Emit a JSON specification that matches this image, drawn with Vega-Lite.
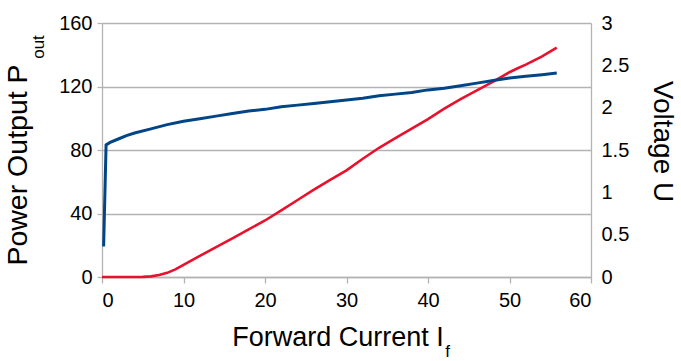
{
  "$schema": "https://vega.github.io/schema/vega-lite/v6.json",
  "width": 489,
  "height": 254,
  "autosize": "none",
  "padding": {"left": 102, "top": 23, "right": 90, "bottom": 84},
  "background": "white",
  "config": {
    "view": {"stroke": null},
    "axis": {
      "labelFont": "Liberation Sans",
      "titleFont": "Liberation Sans",
      "labelColor": "#000000",
      "titleColor": "#000000",
      "titleFontWeight": "normal",
      "labelFontSize": 20,
      "titleFontSize": 27,
      "gridColor": "#b3b3b3",
      "domainColor": "#b3b3b3",
      "tickColor": "#b3b3b3",
      "gridWidth": 1.3,
      "domainWidth": 1.3,
      "tickWidth": 1.3
    }
  },
  "datasets": {
    "power": [
      {"I": 0, "P": 0}, {"I": 2, "P": 0}, {"I": 4, "P": 0}, {"I": 5, "P": 0.1},
      {"I": 6, "P": 0.4}, {"I": 7, "P": 1.2}, {"I": 8, "P": 2.6}, {"I": 9, "P": 4.8},
      {"I": 10, "P": 7.6}, {"I": 12, "P": 13.3}, {"I": 14, "P": 18.8}, {"I": 16, "P": 24.3},
      {"I": 18, "P": 30}, {"I": 20, "P": 35.6}, {"I": 22, "P": 42}, {"I": 24, "P": 48.5},
      {"I": 26, "P": 55}, {"I": 28, "P": 61.2}, {"I": 30, "P": 67.2}, {"I": 32, "P": 74.5},
      {"I": 34, "P": 81.4}, {"I": 36, "P": 87.5}, {"I": 38, "P": 93.5}, {"I": 40, "P": 99.5},
      {"I": 42, "P": 106}, {"I": 44, "P": 112}, {"I": 46, "P": 117.5}, {"I": 48, "P": 123},
      {"I": 50, "P": 129}, {"I": 51, "P": 131.5}, {"I": 52, "P": 133.8}, {"I": 54, "P": 139},
      {"I": 55.8, "P": 144.5}
    ],
    "voltage": [
      {"I": 0.2, "U": 0.36}, {"I": 0.5, "U": 1.56}, {"I": 1, "U": 1.59}, {"I": 2, "U": 1.63},
      {"I": 3, "U": 1.67}, {"I": 4, "U": 1.7}, {"I": 6, "U": 1.75}, {"I": 8, "U": 1.8},
      {"I": 10, "U": 1.84}, {"I": 12, "U": 1.87}, {"I": 14, "U": 1.9}, {"I": 16, "U": 1.93},
      {"I": 18, "U": 1.96}, {"I": 20, "U": 1.98}, {"I": 22, "U": 2.01}, {"I": 24, "U": 2.03},
      {"I": 26, "U": 2.05}, {"I": 28, "U": 2.07}, {"I": 30, "U": 2.09}, {"I": 32, "U": 2.11},
      {"I": 34, "U": 2.14}, {"I": 36, "U": 2.16}, {"I": 38, "U": 2.18}, {"I": 40, "U": 2.21},
      {"I": 42, "U": 2.23}, {"I": 44, "U": 2.26}, {"I": 46, "U": 2.29}, {"I": 48, "U": 2.32},
      {"I": 50, "U": 2.35}, {"I": 52, "U": 2.37}, {"I": 54, "U": 2.39}, {"I": 55.8, "U": 2.41}
    ]
  },
  "layer": [
    {
      "data": {"name": "power"},
      "mark": {"type": "line", "color": "#e8112d", "strokeWidth": 2.6},
      "encoding": {
        "x": {
          "field": "I", "type": "quantitative",
          "scale": {"domain": [0, 60], "nice": false, "zero": true},
          "axis": {
            "orient": "bottom",
            "values": [0, 10, 20, 30, 40, 50, 60],
            "grid": false, "tickSize": 6, "labelPadding": 7,
            "title": "Forward Current I",
            "titleX": 235.5, "titleY": 68, "titleBaseline": "alphabetic", "titleAlign": "center"
          }
        },
        "y": {
          "field": "P", "type": "quantitative",
          "scale": {"domain": [0, 160], "nice": false},
          "axis": {
            "orient": "left",
            "values": [0, 40, 80, 120, 160],
            "grid": true, "tickSize": 5, "labelPadding": 5,
            "title": "Power Output P",
            "titleFontSize": 28.5,
            "titleAngle": -90, "titleX": -70, "titleY": 141.5,
            "titleBaseline": "bottom", "titleAlign": "center"
          }
        }
      }
    },
    {
      "data": {"name": "voltage"},
      "mark": {"type": "line", "color": "#004586", "strokeWidth": 3},
      "encoding": {
        "x": {"field": "I", "type": "quantitative", "scale": {"domain": [0, 60], "nice": false}, "axis": null},
        "y": {
          "field": "U", "type": "quantitative",
          "scale": {"domain": [0, 3], "nice": false},
          "axis": {
            "orient": "right",
            "values": [0, 0.5, 1, 1.5, 2, 2.5, 3],
            "format": "~g",
            "grid": false, "ticks": false, "labelPadding": 10,
            "title": "Voltage U",
            "titleFontSize": 28,
            "titleAngle": 90, "titleX": 62, "titleY": 118,
            "titleBaseline": "alphabetic", "titleAlign": "center"
          }
        }
      }
    },
    {
      "data": {"name": "power"},
      "mark": {"type": "line", "strokeOpacity": 0},
      "encoding": {
        "x": {
          "field": "I", "type": "quantitative",
          "scale": {"domain": [0, 60], "nice": false},
          "axis": {
            "orient": "bottom",
            "labels": false, "ticks": false, "domain": false, "grid": false,
            "title": "f", "titleFontSize": 17,
            "titleX": 345, "titleY": 79, "titleBaseline": "alphabetic", "titleAlign": "center"
          }
        },
        "y": {
          "field": "P", "type": "quantitative",
          "scale": {"domain": [0, 160], "nice": false},
          "axis": {
            "orient": "left",
            "labels": false, "ticks": false, "domain": false, "grid": false,
            "title": "out", "titleFontSize": 17,
            "titleAngle": -90, "titleX": -59, "titleY": 23.5,
            "titleBaseline": "alphabetic", "titleAlign": "center"
          }
        }
      }
    }
  ],
  "resolve": {"scale": {"y": "independent", "x": "independent"}, "axis": {"x": "independent", "y": "independent"}}
}
